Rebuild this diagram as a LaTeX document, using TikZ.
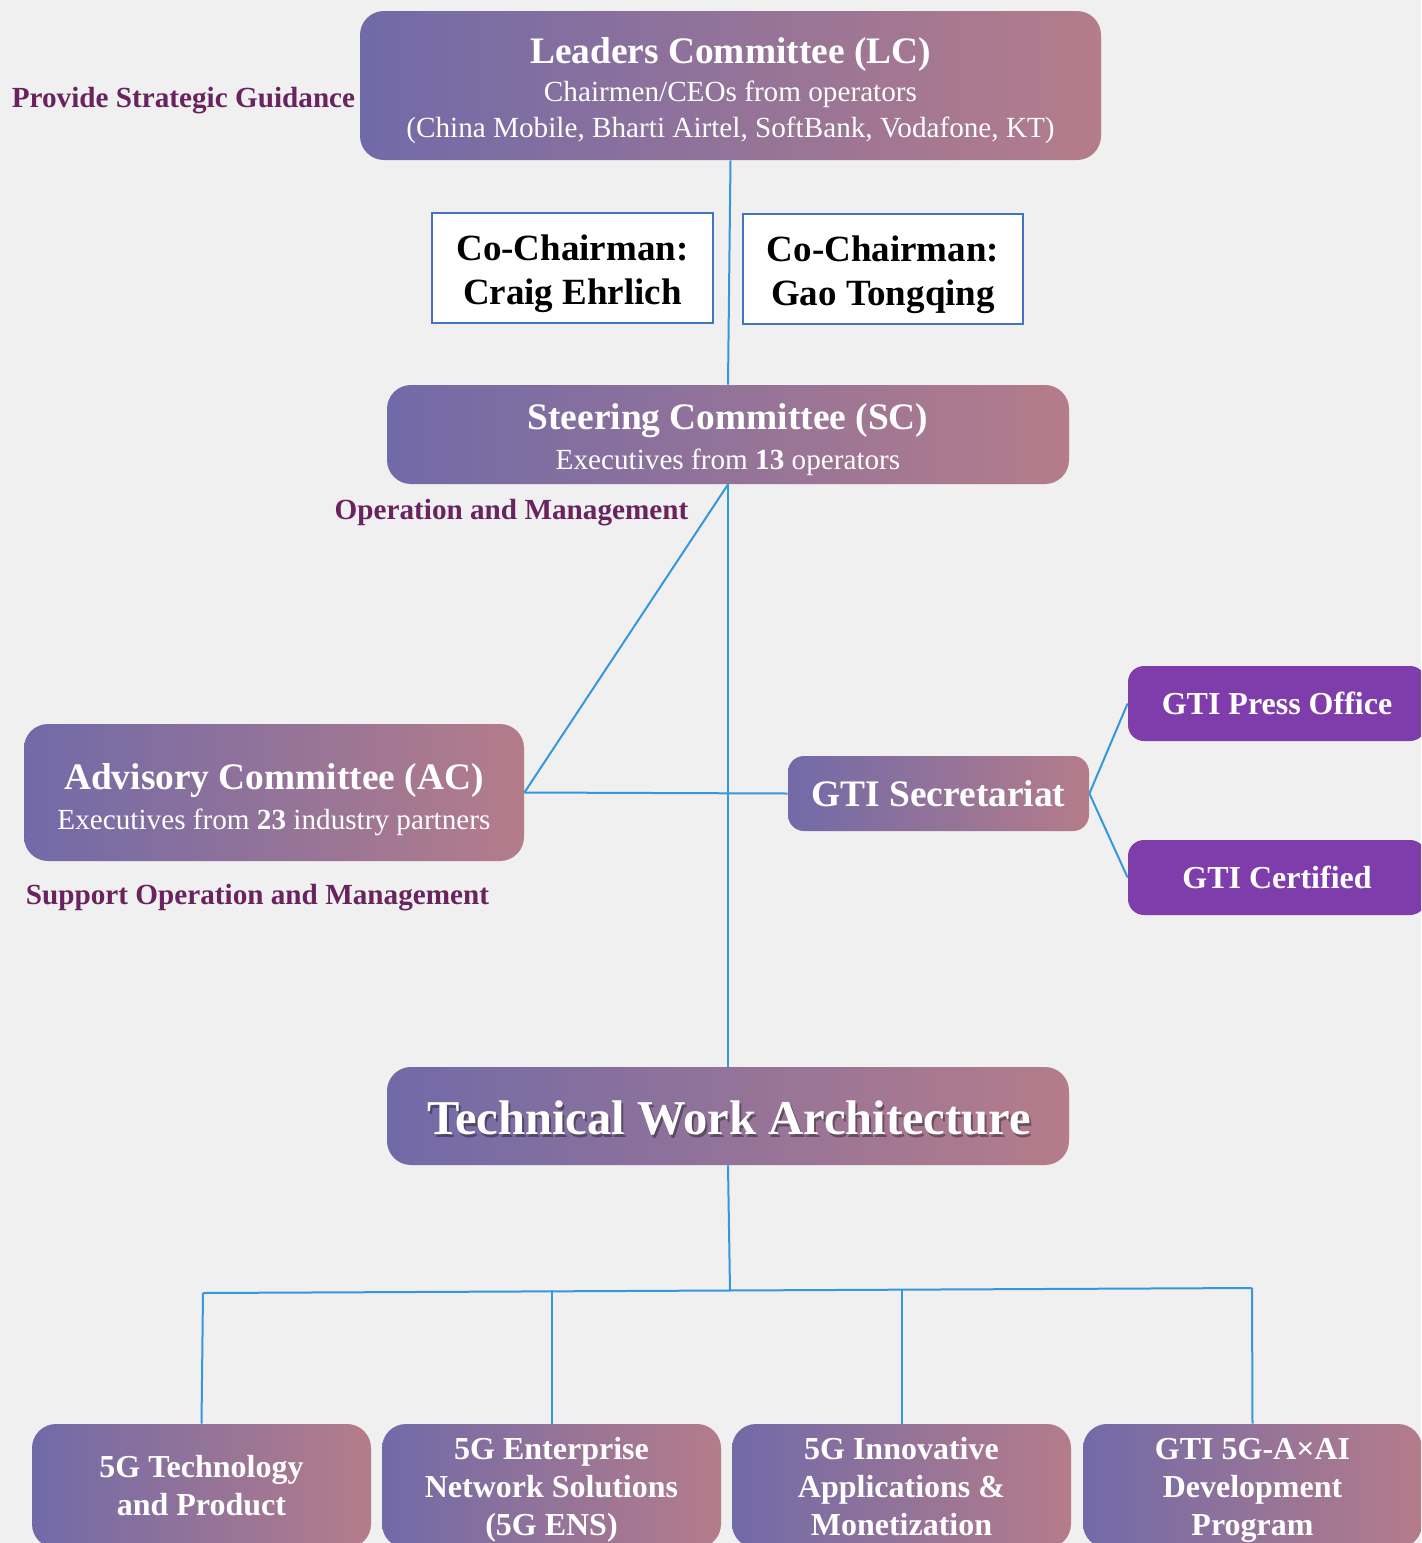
\documentclass[tikz,border=0pt]{standalone}
\usepackage{fontspec}
\setmainfont{Liberation Serif}
\usepackage{xcolor}
\usepackage{tikz}

\definecolor{bgcol}{RGB}{240,240,240}
\definecolor{gradl}{RGB}{113,106,168}
\definecolor{gradr}{RGB}{181,124,138}
\definecolor{linkcol}{RGB}{52,152,219}
\definecolor{tagcol}{RGB}{105,35,95}
\definecolor{officecol}{RGB}{126,61,170}
\definecolor{chaircol}{RGB}{68,114,196}

\begin{document}
\begin{tikzpicture}[x=0.5pt, y=-0.5pt,
    gradbox/.style={rectangle, rounded corners=12pt, left color=gradl, right color=gradr, text=white, align=center, inner sep=0pt},
    boxtext/.style={text=white, align=center, inner sep=0pt, font=\fontsize{14.6}{18}\selectfont},
    chairbox/.style={rectangle, draw=chaircol, line width=1.2pt, fill=white, inner sep=0pt},
    chairtext/.style={align=center, inner sep=0pt, font=\fontsize{18.5}{22}\selectfont\bfseries},
    officebox/.style={rectangle, rounded corners=8pt, fill=officecol, text=white, inner sep=0pt, minimum width=149pt, minimum height=37.5pt, font=\fontsize{16}{19}\selectfont\bfseries},
    teambox/.style={gradbox, minimum width=169.5pt, minimum height=62pt},
    teamtext/.style={boxtext, font=\fontsize{16}{19}\selectfont\bfseries},
    tag/.style={text=tagcol, inner sep=0pt, font=\fontsize{14.6}{17}\selectfont\bfseries},
    link/.style={draw=linkcol, line width=1pt}]
    \useasboundingbox (0,0) rectangle (1421,1543);
    \fill[bgcol] (0,0) rectangle (1421,1543);
    \clip (0,0) rectangle (1421,1543);

    % committees
    \draw (730.5,85.5) node (lc) [gradbox, minimum width=370.5pt, minimum height=74.5pt] {};
    \draw (730.5,91) node (lctext) [boxtext]
        {{\fontsize{18.7}{18}\selectfont\bfseries Leaders Committee (LC)}\\[1pt] Chairmen/CEOs from operators\\ (China Mobile, Bharti Airtel, SoftBank, Vodafone, KT)};
    \draw (572.5,268) node (chair1) [chairbox, minimum width=140.5pt, minimum height=55pt] {};
    \draw (572.5,274) node (chair1text) [chairtext] {Co-Chairman:\\Craig Ehrlich};
    \draw (883,269) node (chair2) [chairbox, minimum width=140pt, minimum height=55pt] {};
    \draw (883,275) node (chair2text) [chairtext] {Co-Chairman:\\Gao Tongqing};
    \draw (728,434.5) node (sc) [gradbox, minimum width=341pt, minimum height=49.5pt] {};
    \draw (728,440) node (sctext) [boxtext]
        {{\fontsize{18.7}{18}\selectfont\bfseries Steering Committee (SC)}\\[2pt] Executives from \textbf{13} operators};
    \draw (274,792.5) node (ac) [gradbox, minimum width=250pt, minimum height=68.5pt] {};
    \draw (274,799.5) node (actext) [boxtext]
        {{\fontsize{18.7}{18}\selectfont\bfseries Advisory Committee (AC)}\\[2pt] Executives from \textbf{23} industry partners};
    \draw (938.5,793.5) node (sec) [gradbox, rounded corners=8pt, minimum width=150.5pt, minimum height=37.5pt, font=\fontsize{18.7}{20}\selectfont\bfseries] {GTI Secretariat};
    \draw (1277,703.5) node (press) [officebox] {GTI Press Office};
    \draw (1277,877.5) node (cert) [officebox] {GTI Certified};

    % technical work
    \draw (728,1116) node (twa) [gradbox, minimum width=341pt, minimum height=49pt] {};
    \draw (731,1121) node (twashade) [text=black, opacity=0.35, font=\fontsize{24.3}{26}\selectfont\bfseries] {Technical Work Architecture};
    \draw (729,1118) node (twatext) [text=white, font=\fontsize{24.3}{26}\selectfont\bfseries] {Technical Work Architecture};
    \draw (201.5,1486) node (team1) [teambox] {};
    \draw (201.5,1486) node (team1text) [teamtext] {5G Technology\\and Product};
    \draw (551.5,1486) node (team2) [teambox] {};
    \draw (551.5,1490) node (team2text) [teamtext] {5G Enterprise\\Network Solutions\\(5G ENS)};
    \draw (901.5,1486) node (team3) [teambox] {};
    \draw (901.5,1487) node (team3text) [teamtext] {5G Innovative\\Applications \&\\Monetization};
    \draw (1252.5,1486) node (team4) [teambox] {};
    \draw (1252.5,1490) node (team4text) [teamtext] {GTI 5G-A×AI\\Development\\Program};

    % tags
    \draw (183.5,101) node (tag1) [tag] {Provide Strategic Guidance};
    \draw (511.5,513) node (tag2) [tag] {Operation and Management};
    \draw (257.5,898) node (tag3) [tag] {Support Operation and Management};

    % links
    \coordinate (busl) at (203,1293);
    \coordinate (busm) at (730,1290);
    \coordinate (busr) at (1252,1288);
    \draw [link] (lc.south) -- (sc.north);
    \draw [link] (sc.south) -- (twa.north);
    \draw [link] (sc.south) -- (ac.east);
    \draw [link] (ac.east) -- (sec.west);
    \draw [link] (sec.east) -- (press.west);
    \draw [link] (sec.east) -- (cert.west);
    \draw [link] (twa.south) -- (busm);
    \draw [link] (busl) -- (busr);
    \draw [link] (busl) -- (team1.north);
    \draw [link] (team2.north |- busm) -- (team2.north);
    \draw [link] (team3.north |- busm) -- (team3.north);
    \draw [link] (busr) -- (team4.north);
\end{tikzpicture}
\end{document}
